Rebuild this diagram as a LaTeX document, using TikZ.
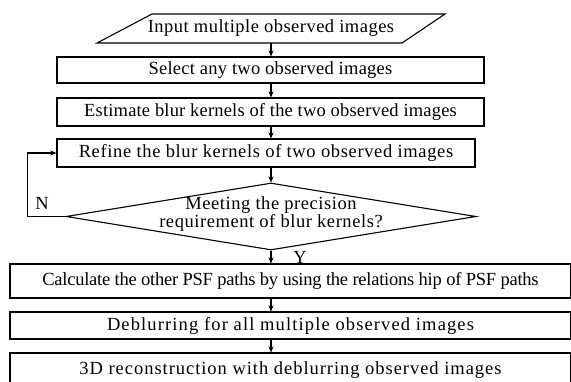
\documentclass[tikz,border=0pt]{standalone}
\usepackage{fontspec}
\setmainfont{Liberation Serif}
\usetikzlibrary{shapes.geometric,arrows.meta}

\begin{document}
\begin{tikzpicture}[x=1pt,y=-1pt,
  boxsty/.style={draw,line width=1.1pt,inner sep=0pt},
  txtsty/.style={font=\fontsize{18.5}{18}\selectfont\addfontfeature{LetterSpace=#1}},
  txtsty/.default=0,
  arrsty/.style={line width=1.1pt,-{Stealth[length=6pt,width=5pt]}}]
  \useasboundingbox (0,0) rectangle (571,381);
  \clip (0,0) rectangle (571,381);

  % input
  \draw[line width=1.1pt] (97,43) -- (152,14) -- (445,14) -- (402,43) -- cycle;
  \node[txtsty=2.6,minimum height=29pt,inner sep=0pt] (in) at (271,28.5) {Input multiple observed images};

  \node[boxsty,txtsty=1.4,minimum width=427pt,minimum height=26pt] (sel) at (270.5,70) {Select any two observed images};
  \node[boxsty,txtsty=1,minimum width=427pt,minimum height=28pt] (est) at (270.5,112) {Estimate blur kernels of the two observed images};
  \node[boxsty,txtsty=3.5,minimum width=418pt,minimum height=28pt] (ref) at (266,153) {Refine the blur kernels of two observed images};

  % check
  \node[boxsty,diamond,minimum width=410pt,minimum height=67pt] (chk) at (271,216.5) {};
  \node[txtsty=3,align=center] (chkt) at (271,214) {Meeting the precision\\requirement of blur kernels?};

  \node[boxsty,txtsty=-1.3,minimum width=561pt,minimum height=34pt] (calc) at (290.5,281) {Calculate the other PSF paths by using the relations hip of PSF paths};
  \node[boxsty,txtsty=6.1,minimum width=561pt,minimum height=27pt] (debl) at (290.5,325.5) {Deblurring for all multiple observed images};
  \node[boxsty,txtsty=5.2,minimum width=561pt,minimum height=34pt] (rec) at (290.5,370) {3D reconstruction with deblurring observed images};

  \node[txtsty] (nlab) at (42,203) {N};
  \node[txtsty] (ylab) at (300,257) {Y};

  \draw[arrsty] (in.south) -- (in.south |- sel.north);
  \draw[arrsty] (in.south |- sel.south) -- (in.south |- est.north);
  \draw[arrsty] (in.south |- est.south) -- (in.south |- ref.north);
  \draw[arrsty] (chk.north |- ref.south) -- (chk.north);
  \draw[arrsty] (chk.south) -- (chk.south |- calc.north);
  \draw[arrsty] (chk.south |- calc.south) -- (chk.south |- debl.north);
  \draw[arrsty] (chk.south |- debl.south) -- (chk.south |- rec.north);
  \draw[arrsty] (chk.west) -- ++(-38,0) |- (ref.west);
\end{tikzpicture}
\end{document}
